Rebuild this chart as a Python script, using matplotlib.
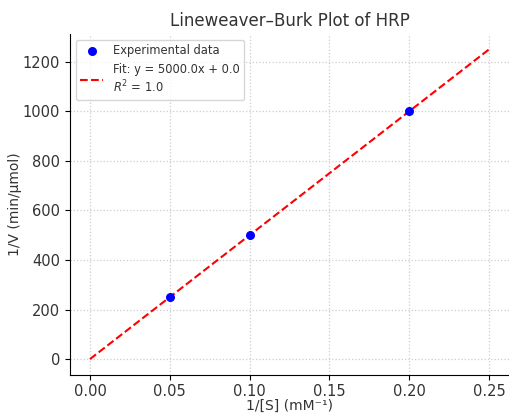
import numpy as np
import matplotlib.pyplot as plt

# data
inv_s = [0.05, 0.10, 0.20]
inv_v = [250, 500, 1000]
slope = 5000.0
intercept = 0.0
r2 = 1.0

x_fit = np.linspace(0, 0.25, 100)
y_fit = slope * x_fit + intercept

txt = '#333333'
fig = plt.figure(figsize=(5.09, 4.13), dpi=100)
ax = fig.add_subplot()
ax.scatter(inv_s, inv_v, color='blue', s=30, zorder=3, label='Experimental data')
ax.plot(x_fit, y_fit, color='red', linestyle='--', linewidth=1.5,
        label=f'Fit: y = {slope:.1f}x + {intercept:.1f}\n$R^2$ = {r2:.1f}')
ax.set_title('Lineweaver–Burk Plot of HRP', fontsize=12, color=txt, pad=6)
ax.set_xlabel('1/[S] (mM⁻¹)', fontsize=10, color=txt, labelpad=0)
ax.set_ylabel('1/V (min/μmol)', fontsize=10, color=txt, labelpad=1)
ax.tick_params(labelsize=10.5, labelcolor=txt)
ax.spines['top'].set_visible(False)
ax.spines['right'].set_visible(False)
ax.grid(True, linestyle=':', color='#cccccc', linewidth=0.9)
leg = ax.legend(loc='upper left', fontsize=8.3)
for t in leg.get_texts():
    t.set_color(txt)
fig.subplots_adjust(left=0.1375, right=1.0, top=0.918, bottom=0.093)
fig.savefig('out.png')
